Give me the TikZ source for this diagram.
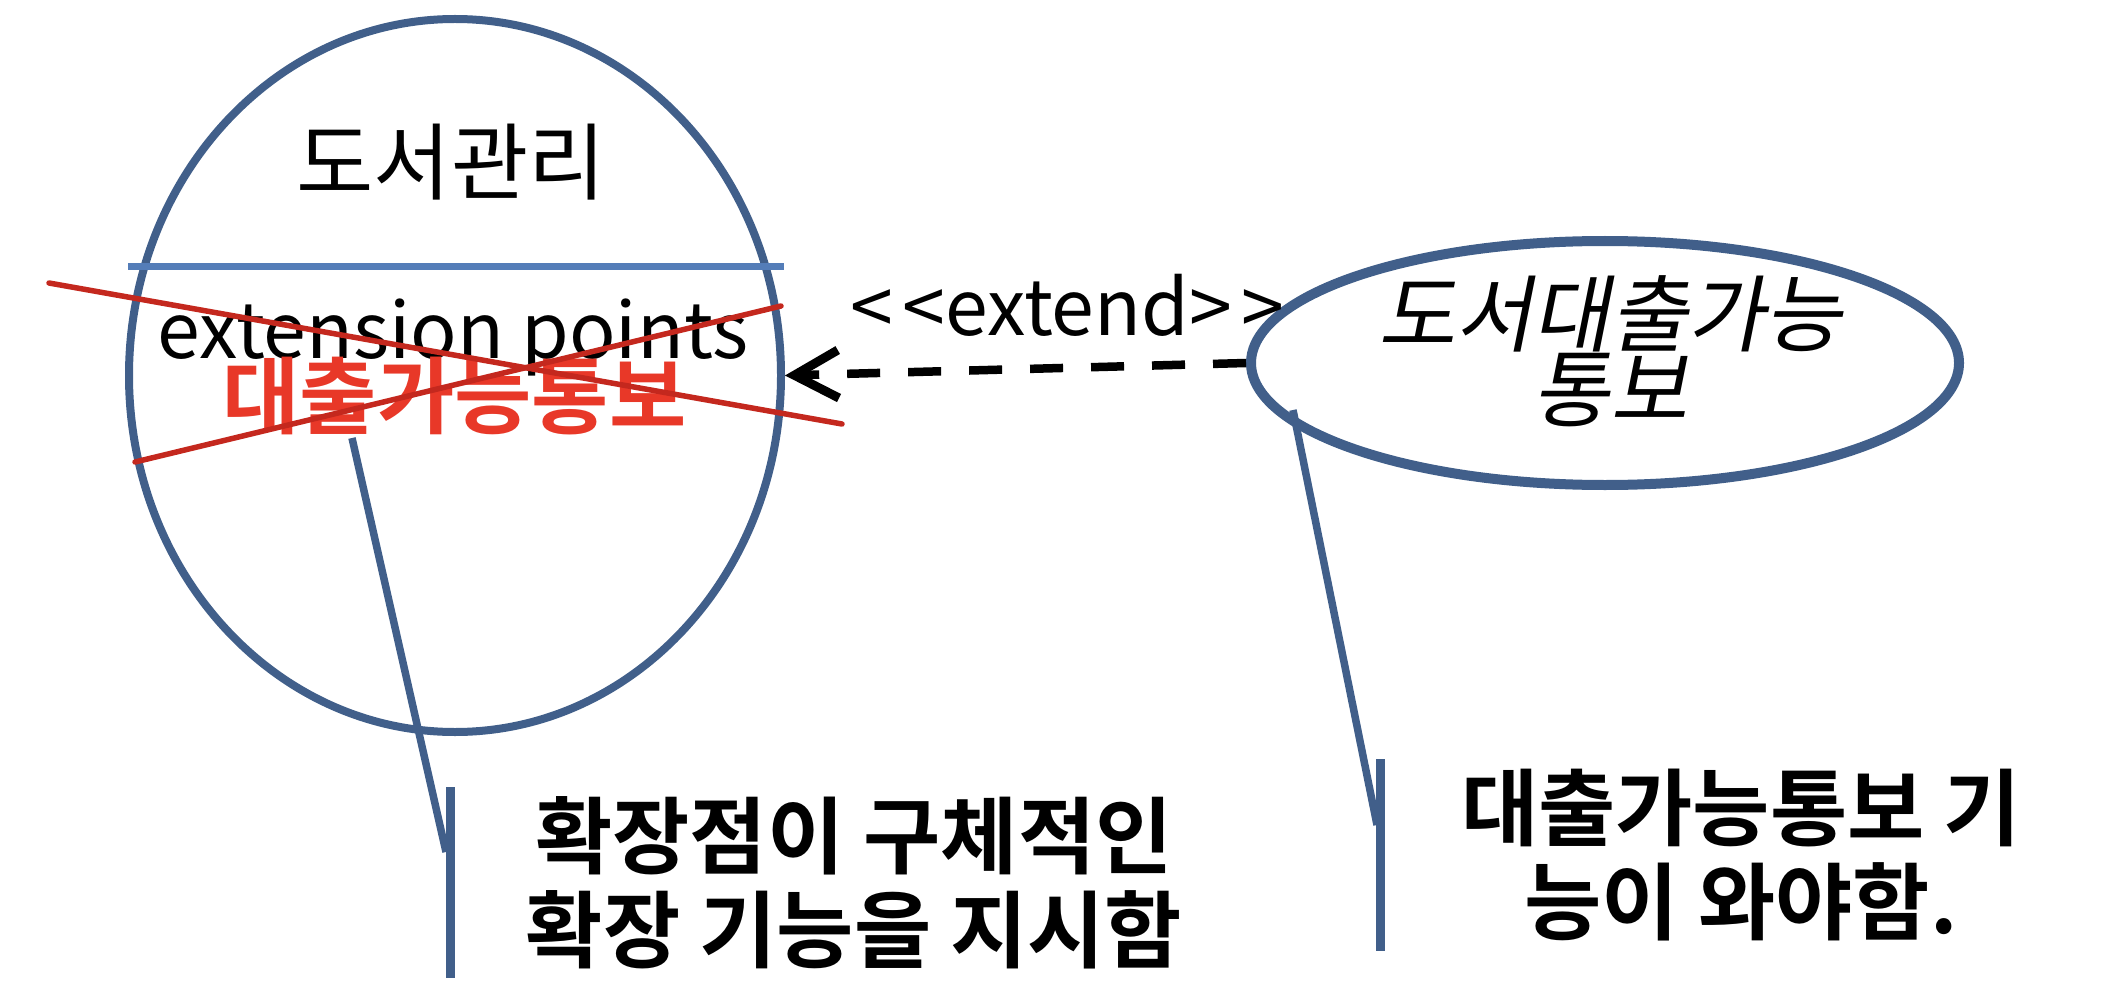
\documentclass[tikz,border=0pt]{standalone}
\usepackage{fontspec}
\setmainfont{Noto Sans CJK KR}
\newfontfamily\krfont{Noto Sans CJK KR}
\newfontfamily\krbold{Noto Sans CJK KR Bold}
\newfontfamily\krit{Noto Sans CJK KR}[FakeSlant=0.2]
\usetikzlibrary{shapes.geometric,arrows.meta}
\definecolor{ucblue}{RGB}{65,95,138}
\definecolor{sepblue}{RGB}{84,125,184}
\definecolor{strikered}{RGB}{196,40,30}
\definecolor{textred}{RGB}{232,56,40}
\begin{document}
\begin{tikzpicture}[x=1pt,y=-1pt,
  ucase/.style={draw=ucblue,ellipse,inner sep=0pt},
  sepline/.style={draw=sepblue,line width=7pt},
  strike/.style={draw=strikered,line width=5.5pt,line cap=round},
  notestem/.style={draw=ucblue,line width=9pt},
  noteline/.style={draw=ucblue,line width=7.5pt},
  extendarrow/.style={draw=black,line width=8.5pt,dash pattern=on 33pt off 28pt,
    -{Straight Barb[length=44pt,width=48pt,line width=9pt]}},
  kr/.style={font=\krfont\fontsize{84}{90}\selectfont,inner sep=0pt},
  lat/.style={font=\fontsize{77}{90}\selectfont,inner sep=0pt},
  note/.style={font=\krbold\fontsize{84}{94}\selectfont,align=center,inner sep=0pt}]
\useasboundingbox (0,0) rectangle (2119,1000);
% use cases
\node[ucase,line width=8pt,minimum width=652pt,minimum height=713pt] (uc) at (455,375.5) {};
\node[ucase,line width=10pt,minimum width=708pt,minimum height=244pt] (ue) at (1605,363) {};
% compartment separator
\coordinate (sepL) at (128,267);
\coordinate (sepR) at (784,267);
\draw[sepline] (sepL) -- (sepR);
% texts in the left use case
\node[kr] (title) at (451,162.5) {도서관리};
\node[lat,anchor=base] (extp) at (453,358) {extension points};
\node[font=\krbold\fontsize{84}{90}\selectfont,text=textred,inner sep=0pt] (point) at (454.5,396) {대출가능통보};
% strike-through lines
\coordinate (s1a) at (49,283);
\coordinate (s1b) at (842,424);
\coordinate (s2a) at (135,462);
\coordinate (s2b) at (781,306);
\draw[strike] (s1a) -- (s1b);
\draw[strike] (s2a) -- (s2b);
% extending use case text
\node[font=\krit\fontsize{84}{71}\selectfont,align=center,inner sep=0pt] (uetext) at (1610,351.5) {도서대출가능\\통보};
% extend relation
\draw[extendarrow] (ue.west) -- (uc.east);
\node[lat,anchor=base] (extlabel) at (1067.5,335) {<\kern10pt<extend>\kern10pt>};
% note 1
\node[note] (note1) at (854,883) {확장점이 구체적인\\확장 기능을 지시함};
\coordinate (n1a) at (450,787);
\coordinate (n1b) at (450,978);
\coordinate (n1c) at (446,852);
\coordinate (p1) at (352,438);
\draw[notestem] (n1a) -- (n1b);
\draw[noteline] (n1c) -- (p1);
% note 2
\node[note] (note2) at (1741,855.5) {대출가능통보 기\\능이 와야함.};
\coordinate (n2a) at (1380.5,759);
\coordinate (n2b) at (1380.5,951);
\coordinate (n2c) at (1377,825);
\coordinate (p2) at (1293,410);
\draw[notestem] (n2a) -- (n2b);
\draw[noteline] (n2c) -- (p2);
\end{tikzpicture}
\end{document}
